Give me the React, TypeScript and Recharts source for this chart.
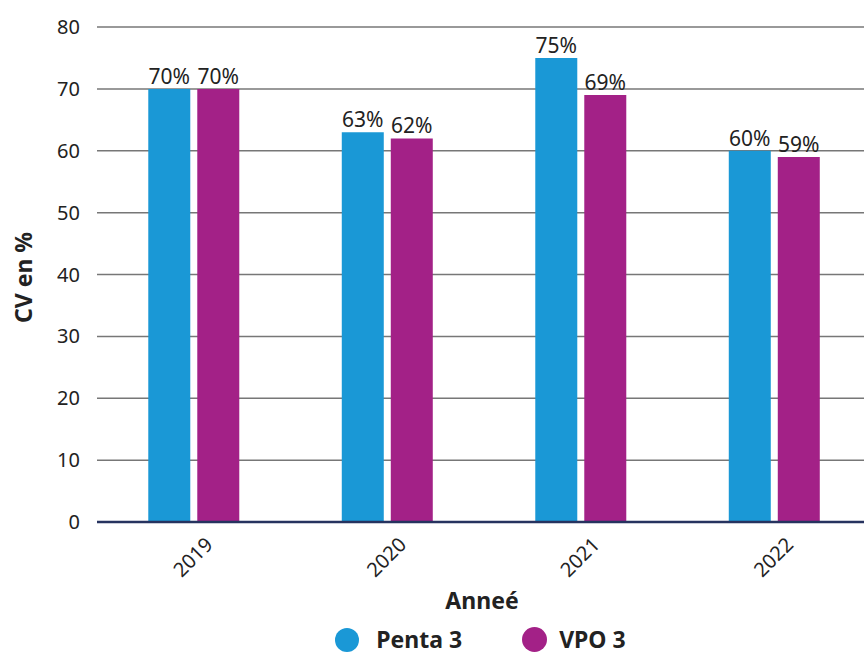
import React from "react";
import { BarChart, Bar, XAxis, YAxis, CartesianGrid, Legend, LabelList } from "recharts";

const years = ["2019", "2020", "2021", "2022"];
const penta3 = [70, 63, 75, 60];
const vpo3 = [70, 62, 69, 59];
const yTicks = [0, 10, 20, 30, 40, 50, 60, 70, 80];

const data = years.map((y, i) => ({ year: y, penta3: penta3[i], vpo3: vpo3[i] }));

const FONT = "'Noto Sans', 'Open Sans', sans-serif";
const BLUE = "#1a98d6";
const PURPLE = "#a32187";

const renderLegend = () => (
  <div style={{ display: "flex", justifyContent: "center", alignItems: "center", fontFamily: FONT, fontWeight: 700, fontSize: 23, lineHeight: "23px", color: "#222", paddingTop: 5, marginLeft: 90, height: 25 }}>
    <span style={{ display: "inline-block", width: 24, height: 24, borderRadius: "50%", background: BLUE, marginRight: 17 }} />
    <span style={{ marginRight: 60 }}>Penta 3</span>
    <span style={{ display: "inline-block", width: 25, height: 25, borderRadius: "50%", background: PURPLE, marginRight: 12 }} />
    <span>VPO 3</span>
  </div>
);

const XTick = (props: any) => {
  const { x, y, payload } = props;
  return (
    <g transform={`translate(${x - 1},${y + 27})`}>
      <text x={0} y={0} dy="0.36em" textAnchor="middle" transform="rotate(-45)" fill="#222" fontSize={20} fontFamily={FONT}>
        {payload.value}
      </text>
    </g>
  );
};

export default function App() {
  return (
    <div style={{ position: "absolute", left: 0, top: 0, width: 864, height: 657, background: "#fff", overflow: "hidden" }}>
      <BarChart
        width={871}
        height={657}
        data={data}
        margin={{ top: 27, right: 0, left: 0, bottom: 0 }}
        barGap={7}
        barCategoryGap="26.5%"
      >
        <CartesianGrid vertical={false} stroke="#777" strokeWidth={1.5} />
        <XAxis
          dataKey="year"
          height={100}
          tick={<XTick />}
          tickLine={false}
          axisLine={{ stroke: "#26335f", strokeWidth: 2.5 }}
          interval={0}
          label={{ value: "Anneé", position: "insideBottom", offset: 13, dx: -2, fill: "#222", fontSize: 23, fontWeight: 700, fontFamily: FONT }}
        />
        <YAxis
          width={97}
          domain={[0, 80]}
          ticks={yTicks}
          interval={0}
          tickLine={false}
          axisLine={false}
          tickSize={0}
          tickMargin={17}
          tick={{ fill: "#222", fontSize: 20, fontFamily: FONT }}
          label={{ value: "CV en %", angle: -90, position: "insideLeft", offset: 24, dy: 3, fill: "#222", fontSize: 23, fontWeight: 700, fontFamily: FONT, style: { textAnchor: "middle" } }}
        />
        <Legend verticalAlign="bottom" height={35} content={renderLegend} />
        <Bar dataKey="penta3" name="Penta 3" fill={BLUE} isAnimationActive={false}>
          <LabelList dataKey="penta3" position="top" offset={5} formatter={(v: any) => `${v}%`} fill="#222" fontSize={21} fontFamily={FONT} />
        </Bar>
        <Bar dataKey="vpo3" name="VPO 3" fill={PURPLE} isAnimationActive={false}>
          <LabelList dataKey="vpo3" position="top" offset={5} formatter={(v: any) => `${v}%`} fill="#222" fontSize={21} fontFamily={FONT} />
        </Bar>
      </BarChart>
    </div>
  );
}
